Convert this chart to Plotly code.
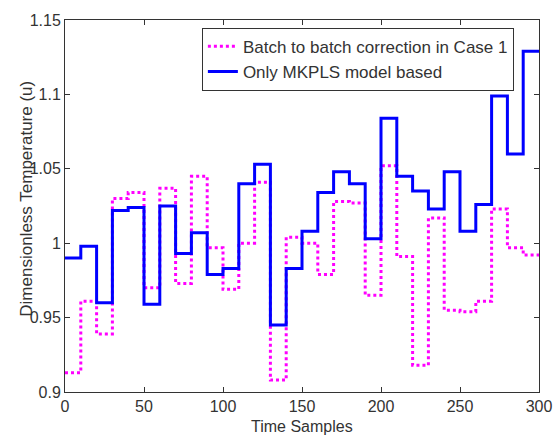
# Batch-to-batch correction vs MKPLS model, stairs plot
import plotly.graph_objects as go

# --- data (one value per batch, 10 samples wide) ---
x_samples = list(range(0, 301, 10))

batch_correction = [0.913, 0.961, 0.939, 1.030, 1.034, 0.970, 1.037, 0.973, 1.045, 0.997,
                    0.969, 1.000, 1.041, 0.908, 1.004, 1.000, 0.979, 1.028, 1.027, 0.965,
                    1.052, 0.991, 0.918, 1.017, 0.955, 0.954, 0.961, 1.023, 0.997, 0.992]

mkpls_only = [0.990, 0.998, 0.960, 1.022, 1.024, 0.959, 1.025, 0.993, 1.007, 0.979,
              0.983, 1.040, 1.053, 0.945, 0.983, 1.008, 1.034, 1.048, 1.040, 1.003,
              1.084, 1.045, 1.035, 1.023, 1.048, 1.008, 1.026, 1.099, 1.060, 1.129]

x_ticks = [0, 50, 100, 150, 200, 250, 300]
y_ticks = [0.9, 0.95, 1.0, 1.05, 1.1, 1.15]
y_ticklabels = ['0.9', '0.95', '1', '1.05', '1.1', '1.15']

FONT = 'Liberation Sans, Arial, sans-serif'
TXT = '#333'

fig = go.Figure()

# stairs: repeat last value so the final step reaches x=300
fig.add_trace(go.Scatter(
    x=x_samples, y=batch_correction + [batch_correction[-1]],
    mode='lines', line_shape='hv',
    name='Batch to batch correction in Case 1',
    line=dict(color='#ff00ff', width=3, dash='dot')
))
fig.add_trace(go.Scatter(
    x=x_samples, y=mkpls_only + [mkpls_only[-1]],
    mode='lines', line_shape='hv',
    name='Only MKPLS model based',
    line=dict(color='#0000ff', width=3)
))

axis_common = dict(
    showline=True, linecolor='#333', linewidth=1, mirror='ticks',
    ticks='inside', ticklen=5, tickcolor='#333',
    showgrid=False, zeroline=False, automargin=False,
    tickfont=dict(family=FONT, size=16, color=TXT),
)

fig.update_xaxes(range=[0, 300], tickvals=x_ticks, **axis_common)
fig.update_yaxes(range=[0.9, 1.15], tickvals=y_ticks, ticktext=y_ticklabels, **axis_common)

fig.update_layout(
    width=553, height=436,
    margin=dict(l=65, r=14, t=20, b=44),
    plot_bgcolor='white', paper_bgcolor='white',
    font=dict(family=FONT, size=16, color=TXT),
    showlegend=True,
    legend=dict(
        x=0.947, y=0.979, xanchor='right', yanchor='top',
        bgcolor='white', bordercolor='#333', borderwidth=1,
        font=dict(family=FONT, size=17, color=TXT),
        itemwidth=30, tracegroupgap=0,
    ),
    annotations=[
        dict(text='Dimensionless Temperature (u)', textangle=-90,
             xref='paper', yref='paper', x=-0.082, y=0.52,
             xanchor='center', yanchor='middle', showarrow=False,
             font=dict(family=FONT, size=17, color=TXT)),
        dict(text='Time Samples',
             xref='paper', yref='paper', x=0.5, y=0,
             xanchor='center', yanchor='middle', yshift=-34, showarrow=False,
             font=dict(family=FONT, size=16, color=TXT)),
    ],
)

# drop the default 8px page margin so the figure fills the window
fig.write_html("out.html", config={'displayModeBar': False},
               post_script="document.body.style.margin='0';")
